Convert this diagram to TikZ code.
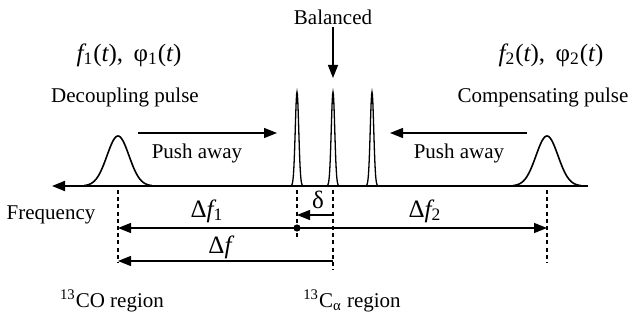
\documentclass[tikz,border=0pt]{standalone}
\usepackage{fontspec}
\setmainfont{Liberation Serif}
\usetikzlibrary{arrows.meta}
\tikzset{
  flecha/.style={-{Triangle[length=6.5pt,width=5pt]},line width=0.6pt},
  guia/.style={dash pattern=on 2pt off 1.6pt,line width=0.6pt},
  texto/.style={font=\fontsize{10.5}{12}\selectfont,inner sep=1pt},
  formula/.style={font=\fontsize{12.5}{14}\selectfont,inner sep=1pt},
  pulso/.style={line width=0.8pt},
}
\newcommand{\cur}[1]{{\itshape #1}}

\begin{document}
\begin{tikzpicture}[x=0.5pt,y=-0.5pt]
  \useasboundingbox (0,0) rectangle (632,326);
  % eje de frecuencia
  \coordinate (ejeder) at (588,186);
  \coordinate (ejeizq) at (52,186);
  \draw[flecha,line width=1pt] (ejeder) -- (ejeizq);
  % pulsos y picos
  \draw[pulso] plot[domain=-34:34,samples=61] ({118+\x},{186-50*exp(-\x*\x/242)});
  \draw[pulso] plot[domain=-34:34,samples=61] ({547+\x},{186-50*exp(-\x*\x/242)});
  \foreach \c in {297,333,372}
    \draw[line width=0.65pt] plot[domain=-6:6,samples=31] ({\c+\x},{186-94*exp(-\x*\x/6)});
  % textos de arriba
  \node[texto] (bal) at (333,17) {Balanced};
  \coordinate (balpunta) at (333,78);
  \draw[flecha] (bal) -- (balpunta);
  \node[formula] (f1) at (129,55) {\cur{f}\textsubscript{1}(\cur{t}), \,φ\textsubscript{1}(\cur{t})};
  \node[formula] (f2) at (551,55) {\cur{f}\textsubscript{2}(\cur{t}), \,φ\textsubscript{2}(\cur{t})};
  \node[texto] (desac) at (125,97) {Decoupling pulse};
  \node[texto] (comp) at (543,97) {Compensating pulse};
  \node[texto] (emp1) at (197,153) {Push away};
  \node[texto] (emp2) at (459,153) {Push away};
  \coordinate (emp1a) at (138,133); \coordinate (emp1b) at (277,133);
  \coordinate (emp2a) at (527,133); \coordinate (emp2b) at (390,133);
  \draw[flecha] (emp1a) -- (emp1b);
  \draw[flecha] (emp2a) -- (emp2b);
  % lineas guia
  \coordinate (g1a) at (118,190); \coordinate (g1b) at (118,263);
  \coordinate (g2a) at (297,190); \coordinate (g2b) at (297,237);
  \coordinate (g3a) at (333,190); \coordinate (g3b) at (333,270);
  \coordinate (g4a) at (547,190); \coordinate (g4b) at (547,263);
  \draw[guia] (g1a) -- (g1b);
  \draw[guia] (g2a) -- (g2b);
  \draw[guia] (g3a) -- (g3b);
  \draw[guia] (g4a) -- (g4b);
  % desplazamientos
  \coordinate (punto) at (297,228);
  \fill (punto) circle[radius=1.8pt];
  \coordinate (df1) at (118,228); \coordinate (df2) at (547,228);
  \draw[flecha] (punto) -- (df1);
  \draw[flecha] (punto) -- (df2);
  \coordinate (dela) at (333,215); \coordinate (delb) at (297,215);
  \draw[flecha] (dela) -- (delb);
  \coordinate (dfa) at (333,261); \coordinate (dfb) at (118,261);
  \draw[flecha] (dfa) -- (dfb);
  \node[formula] (ldf1) at (207,211) {Δ\cur{f}\textsubscript{1}};
  \node[formula] (ldf2) at (425,211) {Δ\cur{f}\textsubscript{2}};
  \node[formula] (ldel) at (318,200) {δ};
  \node[formula] (ldf) at (220,247) {Δ\cur{f}};
  % regiones
  \node[texto] (frec) at (51,215) {Frequency};
  \node[texto,anchor=base] (rco) at (112,307) {\textsuperscript{13}CO region};
  \node[texto,anchor=base] (rca) at (352,307) {\textsuperscript{13}C\textsubscript{α} region};
\end{tikzpicture}
\end{document}
